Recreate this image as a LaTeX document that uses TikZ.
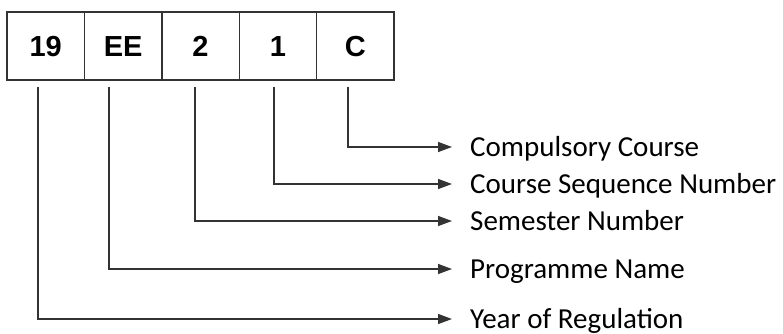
\documentclass[tikz,border=0pt]{standalone}
\usepackage{fontspec}
\setmainfont{Carlito}
\newfontfamily\codefont{Liberation Sans}
\usetikzlibrary{arrows.meta}
\tikzset{
  part/.style={draw=black!80, line width=1.4pt, minimum width=77.4pt, minimum height=68pt, inner sep=0pt, text height=21pt, text depth=0pt, font=\codefont\bfseries\fontsize{29}{29}\selectfont},
  meaning/.style={anchor=west, inner xsep=18pt, inner ysep=0pt, text height=18pt, text depth=0pt, font=\fontsize{29}{29}\selectfont},
  conn/.style={draw=black!80, line width=1.4pt, -{Triangle[length=14pt,width=10pt]}}
}

\begin{document}
\begin{tikzpicture}[x=1pt,y=-1pt]
\useasboundingbox (0,0) rectangle (783,334);
\node[part] (yr) at (45.7,46) {19};
\node[part] (prog) at (123.1,46) {EE};
\node[part] (sem) at (200.5,46) {2};
\node[part] (seq) at (277.9,46) {1};
\node[part] (comp) at (355.3,46) {C};
\node[meaning] (lcomp) at (452,147) {Compulsory Course};
\node[meaning] (lseq) at (452,184) {Course Sequence Number};
\node[meaning] (lsem) at (452,221) {Semester Number};
\node[meaning] (lprog) at (452,269) {Programme Name};
\node[meaning] (lyr) at (452,319) {Year of Regulation};
\draw[conn] ([shift={(-7.3,6)}]comp.south) |- (lcomp.west);
\draw[conn] ([shift={(-3.9,6)}]seq.south) |- (lseq.west);
\draw[conn] ([shift={(-5.5,6)}]sem.south) |- (lsem.west);
\draw[conn] ([shift={(-14.1,6)}]prog.south) |- (lprog.west);
\draw[conn] ([shift={(-7.7,6)}]yr.south) |- (lyr.west);
\end{tikzpicture}
\end{document}
